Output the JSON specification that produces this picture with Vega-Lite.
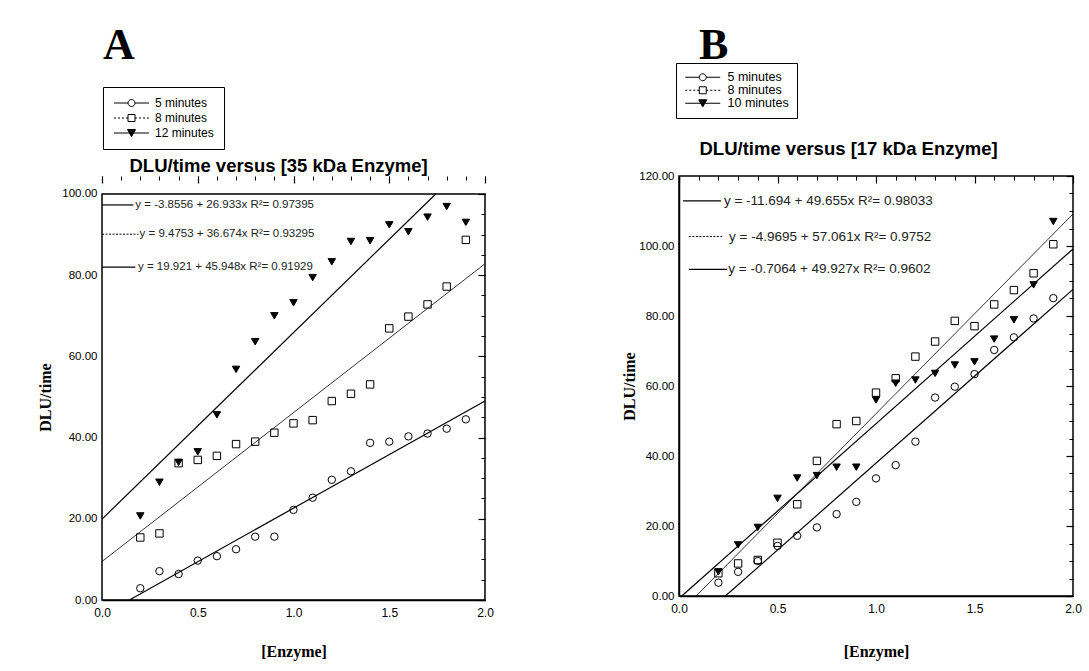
{
  "$schema": "https://vega.github.io/schema/vega-lite/v6.json",
  "background": "white",
  "padding": {"left": 37, "top": 22, "right": 5, "bottom": 5},
  "config": {
    "view": {"stroke": "black", "strokeWidth": 1.5},
    "axis": {"grid": false, "domainColor": "black", "tickColor": "black", "labelColor": "black", "titleColor": "black"}
  },
  "datasets": {
    "ptsA": [
      {"series": "5 minutes", "x": 0.2, "y": 2.9}, {"series": "5 minutes", "x": 0.3, "y": 7.1}, {"series": "5 minutes", "x": 0.4, "y": 6.4},
      {"series": "5 minutes", "x": 0.5, "y": 9.7}, {"series": "5 minutes", "x": 0.6, "y": 10.8}, {"series": "5 minutes", "x": 0.7, "y": 12.5},
      {"series": "5 minutes", "x": 0.8, "y": 15.6}, {"series": "5 minutes", "x": 0.9, "y": 15.6}, {"series": "5 minutes", "x": 1.0, "y": 22.2},
      {"series": "5 minutes", "x": 1.1, "y": 25.2}, {"series": "5 minutes", "x": 1.2, "y": 29.6}, {"series": "5 minutes", "x": 1.3, "y": 31.7},
      {"series": "5 minutes", "x": 1.4, "y": 38.7}, {"series": "5 minutes", "x": 1.5, "y": 39.0}, {"series": "5 minutes", "x": 1.6, "y": 40.3},
      {"series": "5 minutes", "x": 1.7, "y": 41.0}, {"series": "5 minutes", "x": 1.8, "y": 42.2}, {"series": "5 minutes", "x": 1.9, "y": 44.5},
      {"series": "8 minutes", "x": 0.2, "y": 15.4}, {"series": "8 minutes", "x": 0.3, "y": 16.4}, {"series": "8 minutes", "x": 0.4, "y": 33.7},
      {"series": "8 minutes", "x": 0.5, "y": 34.5}, {"series": "8 minutes", "x": 0.6, "y": 35.5}, {"series": "8 minutes", "x": 0.7, "y": 38.4},
      {"series": "8 minutes", "x": 0.8, "y": 39.0}, {"series": "8 minutes", "x": 0.9, "y": 41.2}, {"series": "8 minutes", "x": 1.0, "y": 43.5},
      {"series": "8 minutes", "x": 1.1, "y": 44.3}, {"series": "8 minutes", "x": 1.2, "y": 49.0}, {"series": "8 minutes", "x": 1.3, "y": 50.8},
      {"series": "8 minutes", "x": 1.4, "y": 53.1}, {"series": "8 minutes", "x": 1.5, "y": 66.9}, {"series": "8 minutes", "x": 1.6, "y": 69.8},
      {"series": "8 minutes", "x": 1.7, "y": 72.8}, {"series": "8 minutes", "x": 1.8, "y": 77.2}, {"series": "8 minutes", "x": 1.9, "y": 88.7},
      {"series": "12 minutes", "x": 0.2, "y": 20.7}, {"series": "12 minutes", "x": 0.3, "y": 29.0}, {"series": "12 minutes", "x": 0.4, "y": 33.9},
      {"series": "12 minutes", "x": 0.5, "y": 36.5}, {"series": "12 minutes", "x": 0.6, "y": 45.6}, {"series": "12 minutes", "x": 0.7, "y": 56.8},
      {"series": "12 minutes", "x": 0.8, "y": 63.6}, {"series": "12 minutes", "x": 0.9, "y": 70.0}, {"series": "12 minutes", "x": 1.0, "y": 73.2},
      {"series": "12 minutes", "x": 1.1, "y": 79.4}, {"series": "12 minutes", "x": 1.2, "y": 83.3}, {"series": "12 minutes", "x": 1.3, "y": 88.3},
      {"series": "12 minutes", "x": 1.4, "y": 88.5}, {"series": "12 minutes", "x": 1.5, "y": 92.4}, {"series": "12 minutes", "x": 1.6, "y": 90.7},
      {"series": "12 minutes", "x": 1.7, "y": 94.3}, {"series": "12 minutes", "x": 1.8, "y": 96.9}, {"series": "12 minutes", "x": 1.9, "y": 93.0}
    ],
    "linesA": [
      {"series": "5 minutes", "x0": 0.1432, "y0": 0, "x1": 2.0, "y1": 49.01},
      {"series": "8 minutes", "x0": 0.0, "y0": 9.4753, "x1": 2.0, "y1": 82.82},
      {"series": "12 minutes", "x0": 0.0, "y0": 19.921, "x1": 1.7428, "y1": 100.0}
    ],
    "ptsB": [
      {"series": "5 minutes", "x": 0.2, "y": 3.8}, {"series": "5 minutes", "x": 0.3, "y": 6.9}, {"series": "5 minutes", "x": 0.4, "y": 10.0},
      {"series": "5 minutes", "x": 0.5, "y": 14.3}, {"series": "5 minutes", "x": 0.6, "y": 17.2}, {"series": "5 minutes", "x": 0.7, "y": 19.6},
      {"series": "5 minutes", "x": 0.8, "y": 23.4}, {"series": "5 minutes", "x": 0.9, "y": 26.9}, {"series": "5 minutes", "x": 1.0, "y": 33.6},
      {"series": "5 minutes", "x": 1.1, "y": 37.4}, {"series": "5 minutes", "x": 1.2, "y": 44.1}, {"series": "5 minutes", "x": 1.3, "y": 56.7},
      {"series": "5 minutes", "x": 1.4, "y": 59.8}, {"series": "5 minutes", "x": 1.5, "y": 63.4}, {"series": "5 minutes", "x": 1.6, "y": 70.3},
      {"series": "5 minutes", "x": 1.7, "y": 73.9}, {"series": "5 minutes", "x": 1.8, "y": 79.3}, {"series": "5 minutes", "x": 1.9, "y": 85.1},
      {"series": "8 minutes", "x": 0.2, "y": 6.5}, {"series": "8 minutes", "x": 0.3, "y": 9.3}, {"series": "8 minutes", "x": 0.4, "y": 10.3},
      {"series": "8 minutes", "x": 0.5, "y": 15.2}, {"series": "8 minutes", "x": 0.6, "y": 26.2}, {"series": "8 minutes", "x": 0.7, "y": 38.6},
      {"series": "8 minutes", "x": 0.8, "y": 49.1}, {"series": "8 minutes", "x": 0.9, "y": 50.0}, {"series": "8 minutes", "x": 1.0, "y": 58.1},
      {"series": "8 minutes", "x": 1.1, "y": 62.2}, {"series": "8 minutes", "x": 1.2, "y": 68.4}, {"series": "8 minutes", "x": 1.3, "y": 72.7},
      {"series": "8 minutes", "x": 1.4, "y": 78.6}, {"series": "8 minutes", "x": 1.5, "y": 77.1}, {"series": "8 minutes", "x": 1.6, "y": 83.3},
      {"series": "8 minutes", "x": 1.7, "y": 87.4}, {"series": "8 minutes", "x": 1.8, "y": 92.2}, {"series": "8 minutes", "x": 1.9, "y": 100.5},
      {"series": "10 minutes", "x": 0.2, "y": 6.9}, {"series": "10 minutes", "x": 0.3, "y": 14.6}, {"series": "10 minutes", "x": 0.4, "y": 19.6},
      {"series": "10 minutes", "x": 0.5, "y": 27.9}, {"series": "10 minutes", "x": 0.6, "y": 33.7}, {"series": "10 minutes", "x": 0.7, "y": 34.4},
      {"series": "10 minutes", "x": 0.8, "y": 36.8}, {"series": "10 minutes", "x": 0.9, "y": 36.8}, {"series": "10 minutes", "x": 1.0, "y": 56.0},
      {"series": "10 minutes", "x": 1.1, "y": 60.8}, {"series": "10 minutes", "x": 1.2, "y": 61.7}, {"series": "10 minutes", "x": 1.3, "y": 63.6},
      {"series": "10 minutes", "x": 1.4, "y": 66.0}, {"series": "10 minutes", "x": 1.5, "y": 66.9}, {"series": "10 minutes", "x": 1.6, "y": 73.4},
      {"series": "10 minutes", "x": 1.7, "y": 78.9}, {"series": "10 minutes", "x": 1.8, "y": 88.9}, {"series": "10 minutes", "x": 1.9, "y": 107.0}
    ],
    "linesB": [
      {"series": "5 minutes", "x0": 0.2355, "y0": 0, "x1": 2.0, "y1": 87.616},
      {"series": "8 minutes", "x0": 0.0871, "y0": 0, "x1": 2.0, "y1": 109.15},
      {"series": "10 minutes", "x0": 0.0141, "y0": 0, "x1": 2.0, "y1": 99.148}
    ]
  },
  "spacing": 127,
  "resolve": {"scale": {"x": "independent", "y": "independent", "shape": "independent", "fill": "independent"}, "legend": {"shape": "independent", "fill": "independent"}},
  "hconcat": [
    {
      "width": 383,
      "height": 424,
      "view": {"stroke": null},
      "title": {"text": "A", "anchor": "start", "frame": "group", "font": "Liberation Serif", "fontSize": 44, "fontWeight": "bold", "color": "black", "offset": 19, "dx": 1},
      "resolve": {"axis": {"x": "independent", "y": "independent"}},
      "layer": [
        {
          "data": {"values": [{}]},
          "mark": {"type": "rect", "filled": false, "color": "black", "strokeWidth": 1.5},
          "encoding": {
            "x": {"datum": 0, "type": "quantitative", "axis": null},
            "x2": {"datum": 2},
            "y": {"datum": 0, "type": "quantitative", "axis": null},
            "y2": {"datum": 100}
          }
        },
        {
          "data": {"name": "ptsA"},
          "mark": {"type": "point", "stroke": "black", "strokeWidth": 1, "size": 55, "opacity": 1},
          "encoding": {
            "x": {"field": "x", "type": "quantitative", "scale": {"domain": [0, 2], "nice": false, "zero": false},
              "axis": {"values": [0, 0.5, 1, 1.5, 2], "format": ".1f", "ticks": false, "labelPadding": 7, "labelFont": "Liberation Sans", "labelFontSize": 12, "labelFlush": false, "labelOverlap": false, "domainWidth": 1.5,
                "title": "[Enzyme]", "titleFont": "Liberation Serif", "titleFontSize": 16, "titleFontWeight": "bold", "titlePadding": 25}},
            "y": {"field": "y", "type": "quantitative", "scale": {"domain": [0, 104.43], "nice": false},
              "axis": {"values": [0, 20, 40, 60, 80, 100], "format": ".2f", "ticks": false, "domain": false, "labelPadding": 5, "labelFont": "Liberation Sans", "labelFontSize": 11.5, "labelOverlap": false,
                "title": "DLU/time", "titleFont": "Liberation Serif", "titleFontSize": 16, "titleFontWeight": "bold", "titlePadding": 8, "titleY": 221}},
            "shape": {"condition": [{"test": "datum.series === '5 minutes'", "value": "circle"}, {"test": "datum.series === '8 minutes'", "value": "square"}], "value": "triangle-down"},
            "fill": {"condition": {"test": "datum.series === '12 minutes'", "value": "black"}, "value": "transparent"}
          }
        },
        {
          "data": {"name": "linesA"},
          "mark": {"type": "point", "opacity": 0, "stroke": "black", "strokeWidth": 1},
          "encoding": {
            "x": {"field": "x0", "type": "quantitative", "axis": null},
            "y": {"field": "y0", "type": "quantitative", "axis": null},
            "shape": {"field": "series", "type": "nominal",
              "scale": {"domain": ["5 minutes", "8 minutes", "12 minutes"], "range": ["M-1,0H1.8M3.2,0H6M1.8,0A0.7,0.7,0,1,0,3.2,0A0.7,0.7,0,1,0,1.8,0Z", "M-1,0H-0.6M-0.2,0H0.2M0.6,0H1M1.4,0H1.8M3.2,0H3.6M4,0H4.4M4.8,0H5.2M5.6,0H6M1.8,-0.7H3.2V0.7H1.8Z", "M-1,0H6M1.7,-0.7H3.3L2.5,0.75Z"]},
              "legend": {"orient": "none", "legendX": 1, "legendY": -89, "title": null, "labelFont": "Liberation Sans", "labelFontSize": 12, "labelColor": "black",
                "symbolSize": 100, "symbolOpacity": 1, "symbolStrokeWidth": 1, "labelOffset": 30, "rowPadding": 3, "padding": 10, "strokeColor": "black"}},
            "fill": {"field": "series", "type": "nominal",
              "scale": {"domain": ["5 minutes", "8 minutes", "12 minutes"], "range": ["transparent", "transparent", "black"]}}
          }
        },
        {
          "data": {"name": "linesA"},
          "mark": {"type": "rule", "color": "black"},
          "encoding": {
            "x": {"field": "x0", "type": "quantitative", "axis": {"values": [0, 0.5, 1, 1.5, 2], "tickSize": 7, "offset": -7, "tickWidth": 1.2, "labels": false, "domain": false, "title": null}},
            "y": {"field": "y0", "type": "quantitative", "axis": {"values": [0, 20, 40, 60, 80, 100], "tickSize": 7, "offset": -7, "tickWidth": 1.2, "labels": false, "domain": false, "title": null}},
            "x2": {"field": "x1"},
            "y2": {"field": "y1"},
            "strokeWidth": {"condition": {"test": "datum.series === '8 minutes'", "value": 0.8}, "value": 1.2}
          }
        },
        {
          "data": {"values": [{}]},
          "mark": {"type": "rule", "color": "black", "strokeWidth": 1.2},
          "encoding": {
            "x": {"datum": 0, "type": "quantitative", "axis": {"values": [0, 0.1, 0.2, 0.3, 0.4, 0.5, 0.6, 0.7, 0.8, 0.9, 1, 1.1, 1.2, 1.3, 1.4, 1.5, 1.6, 1.7, 1.8, 1.9, 2], "tickSize": 4, "offset": -4, "labels": false, "domain": false, "title": null}},
            "x2": {"datum": 0.164},
            "y": {"datum": 97.3, "type": "quantitative", "axis": {"values": [0, 5, 10, 15, 20, 25, 30, 35, 40, 45, 50, 55, 60, 65, 70, 75, 80, 85, 90, 95, 100], "tickSize": 4, "offset": -4, "labels": false, "domain": false, "title": null}}
          }
        },
        {
          "data": {"values": [{}]},
          "mark": {"type": "text", "align": "left", "baseline": "middle", "font": "Liberation Sans", "fontSize": 11.5, "color": "#222"},
          "encoding": {
            "x": {"datum": 0.174, "type": "quantitative", "axis": {"orient": "top", "domain": false, "ticks": false, "labels": false, "title": "DLU/time versus [35 kDa Enzyme]", "titleFont": "Liberation Sans", "titleFontSize": 18.5, "titleFontWeight": "bold", "titlePadding": 1, "titleAnchor": "start", "titleAlign": "left", "titleX": 27}},
            "y": {"datum": 97.3, "type": "quantitative", "axis": null},
            "text": {"value": "y = -3.8556 + 26.933x  R²= 0.97395"}
          }
        },
        {
          "data": {"values": [{}]},
          "mark": {"type": "rule", "color": "black", "strokeWidth": 1, "strokeDash": [2, 1.5]},
          "encoding": {
            "x": {"datum": 0, "type": "quantitative", "axis": null},
            "x2": {"datum": 0.19},
            "y": {"datum": 90.1, "type": "quantitative", "axis": null}
          }
        },
        {
          "data": {"values": [{}]},
          "mark": {"type": "text", "align": "left", "baseline": "middle", "font": "Liberation Sans", "fontSize": 11.5, "color": "#222"},
          "encoding": {
            "x": {"datum": 0.196, "type": "quantitative", "axis": null},
            "y": {"datum": 90.1, "type": "quantitative", "axis": null},
            "text": {"value": "y = 9.4753 + 36.674x  R²= 0.93295"}
          }
        },
        {
          "data": {"values": [{}]},
          "mark": {"type": "rule", "color": "black", "strokeWidth": 1.2},
          "encoding": {
            "x": {"datum": 0, "type": "quantitative", "axis": null},
            "x2": {"datum": 0.174},
            "y": {"datum": 82.0, "type": "quantitative", "axis": null}
          }
        },
        {
          "data": {"values": [{}]},
          "mark": {"type": "text", "align": "left", "baseline": "middle", "font": "Liberation Sans", "fontSize": 11.5, "color": "#222"},
          "encoding": {
            "x": {"datum": 0.188, "type": "quantitative", "axis": null},
            "y": {"datum": 82.0, "type": "quantitative", "axis": null},
            "text": {"value": "y = 19.921 + 45.948x  R²= 0.91929"}
          }
        }
      ]
    },
    {
      "width": 394,
      "height": 420,
      "title": {"text": "B", "anchor": "start", "frame": "group", "font": "Liberation Serif", "fontSize": 44, "fontWeight": "bold", "color": "black", "offset": -5, "dx": 20},
      "resolve": {"axis": {"x": "independent", "y": "independent"}},
      "layer": [
        {
          "data": {"name": "ptsB"},
          "mark": {"type": "point", "stroke": "black", "strokeWidth": 1, "size": 55, "opacity": 1},
          "encoding": {
            "x": {"field": "x", "type": "quantitative", "scale": {"domain": [0, 2], "nice": false, "zero": false},
              "axis": {"values": [0, 0.5, 1, 1.5, 2], "format": ".1f", "ticks": false, "labelPadding": 7, "labelFont": "Liberation Sans", "labelFontSize": 12, "labelFlush": false, "labelOverlap": false, "domainWidth": 1.5,
                "title": "[Enzyme]", "titleFont": "Liberation Serif", "titleFontSize": 16, "titleFontWeight": "bold", "titlePadding": 29}},
            "y": {"field": "y", "type": "quantitative", "scale": {"domain": [0, 120], "nice": false},
              "axis": {"values": [0, 20, 40, 60, 80, 100, 120], "format": ".2f", "ticks": false, "labelPadding": 5, "labelFont": "Liberation Sans", "labelFontSize": 11.5, "labelOverlap": false, "domainWidth": 1.5,
                "title": "DLU/time", "titleFont": "Liberation Serif", "titleFontSize": 16, "titleFontWeight": "bold", "titlePadding": 1}},
            "shape": {"condition": [{"test": "datum.series === '5 minutes'", "value": "circle"}, {"test": "datum.series === '8 minutes'", "value": "square"}], "value": "triangle-down"},
            "fill": {"condition": {"test": "datum.series === '10 minutes'", "value": "black"}, "value": "transparent"}
          }
        },
        {
          "data": {"name": "linesB"},
          "mark": {"type": "point", "opacity": 0, "stroke": "black", "strokeWidth": 1},
          "encoding": {
            "x": {"field": "x0", "type": "quantitative", "axis": null},
            "y": {"field": "y0", "type": "quantitative", "axis": null},
            "shape": {"field": "series", "type": "nominal",
              "scale": {"domain": ["5 minutes", "8 minutes", "10 minutes"], "range": ["M-1,0H1.8M3.2,0H6M1.8,0A0.7,0.7,0,1,0,3.2,0A0.7,0.7,0,1,0,1.8,0Z", "M-1,0H-0.6M-0.2,0H0.2M0.6,0H1M1.4,0H1.8M3.2,0H3.6M4,0H4.4M4.8,0H5.2M5.6,0H6M1.8,-0.7H3.2V0.7H1.8Z", "M-1,0H6M1.7,-0.7H3.3L2.5,0.75Z"]},
              "legend": {"orient": "none", "legendX": -3, "legendY": -113, "title": null, "labelFont": "Liberation Sans", "labelFontSize": 12.5, "labelColor": "black",
                "symbolSize": 100, "symbolOpacity": 1, "symbolStrokeWidth": 1, "labelOffset": 31, "rowPadding": -1, "padding": 8, "strokeColor": "black"}},
            "fill": {"field": "series", "type": "nominal",
              "scale": {"domain": ["5 minutes", "8 minutes", "10 minutes"], "range": ["transparent", "transparent", "black"]}}
          }
        },
        {
          "data": {"name": "linesB"},
          "mark": {"type": "rule", "color": "black"},
          "encoding": {
            "x": {"field": "x0", "type": "quantitative", "axis": {"values": [0, 0.5, 1, 1.5, 2], "tickSize": 7, "offset": -7, "tickWidth": 1.2, "labels": false, "domain": false, "title": null}},
            "y": {"field": "y0", "type": "quantitative", "axis": {"values": [0, 20, 40, 60, 80, 100, 120], "tickSize": 7, "offset": -7, "tickWidth": 1.2, "labels": false, "domain": false, "title": null}},
            "x2": {"field": "x1"},
            "y2": {"field": "y1"},
            "strokeWidth": {"condition": {"test": "datum.series === '8 minutes'", "value": 0.8}, "value": 1.2}
          }
        },
        {
          "data": {"values": [{}]},
          "mark": {"type": "rule", "color": "black", "strokeWidth": 1.2},
          "encoding": {
            "x": {"datum": 0.02, "type": "quantitative", "axis": {"values": [0, 0.1, 0.2, 0.3, 0.4, 0.5, 0.6, 0.7, 0.8, 0.9, 1, 1.1, 1.2, 1.3, 1.4, 1.5, 1.6, 1.7, 1.8, 1.9, 2], "tickSize": 4, "offset": -4, "labels": false, "domain": false, "title": null}},
            "x2": {"datum": 0.213},
            "y": {"datum": 112.9, "type": "quantitative", "axis": {"values": [0, 5, 10, 15, 20, 25, 30, 35, 40, 45, 50, 55, 60, 65, 70, 75, 80, 85, 90, 95, 100, 105, 110, 115, 120], "tickSize": 4, "offset": -4, "labels": false, "domain": false, "title": null}}
          }
        },
        {
          "data": {"values": [{}]},
          "mark": {"type": "text", "align": "left", "baseline": "middle", "font": "Liberation Sans", "fontSize": 13.5, "color": "#222"},
          "encoding": {
            "x": {"datum": 0.228, "type": "quantitative", "axis": {"orient": "top", "domain": false, "ticks": false, "labels": false, "title": "DLU/time versus [17 kDa Enzyme]", "titleFont": "Liberation Sans", "titleFontSize": 18.5, "titleFontWeight": "bold", "titlePadding": 18, "titleAnchor": "start", "titleAlign": "left", "titleX": 20}},
            "y": {"datum": 112.9, "type": "quantitative", "axis": null},
            "text": {"value": "y = -11.694 + 49.655x  R²= 0.98033"}
          }
        },
        {
          "data": {"values": [{}]},
          "mark": {"type": "rule", "color": "black", "strokeWidth": 1, "strokeDash": [2, 1.5]},
          "encoding": {
            "x": {"datum": 0.05, "type": "quantitative", "axis": null},
            "x2": {"datum": 0.218},
            "y": {"datum": 102.7, "type": "quantitative", "axis": null}
          }
        },
        {
          "data": {"values": [{}]},
          "mark": {"type": "text", "align": "left", "baseline": "middle", "font": "Liberation Sans", "fontSize": 13.5, "color": "#222"},
          "encoding": {
            "x": {"datum": 0.254, "type": "quantitative", "axis": null},
            "y": {"datum": 102.7, "type": "quantitative", "axis": null},
            "text": {"value": "y = -4.9695 + 57.061x  R²= 0.9752"}
          }
        },
        {
          "data": {"values": [{}]},
          "mark": {"type": "rule", "color": "black", "strokeWidth": 1.2},
          "encoding": {
            "x": {"datum": 0.05, "type": "quantitative", "axis": null},
            "x2": {"datum": 0.244},
            "y": {"datum": 93.3, "type": "quantitative", "axis": null}
          }
        },
        {
          "data": {"values": [{}]},
          "mark": {"type": "text", "align": "left", "baseline": "middle", "font": "Liberation Sans", "fontSize": 13.5, "color": "#222"},
          "encoding": {
            "x": {"datum": 0.25, "type": "quantitative", "axis": null},
            "y": {"datum": 93.3, "type": "quantitative", "axis": null},
            "text": {"value": "y = -0.7064 + 49.927x  R²= 0.9602"}
          }
        }
      ]
    }
  ]
}
